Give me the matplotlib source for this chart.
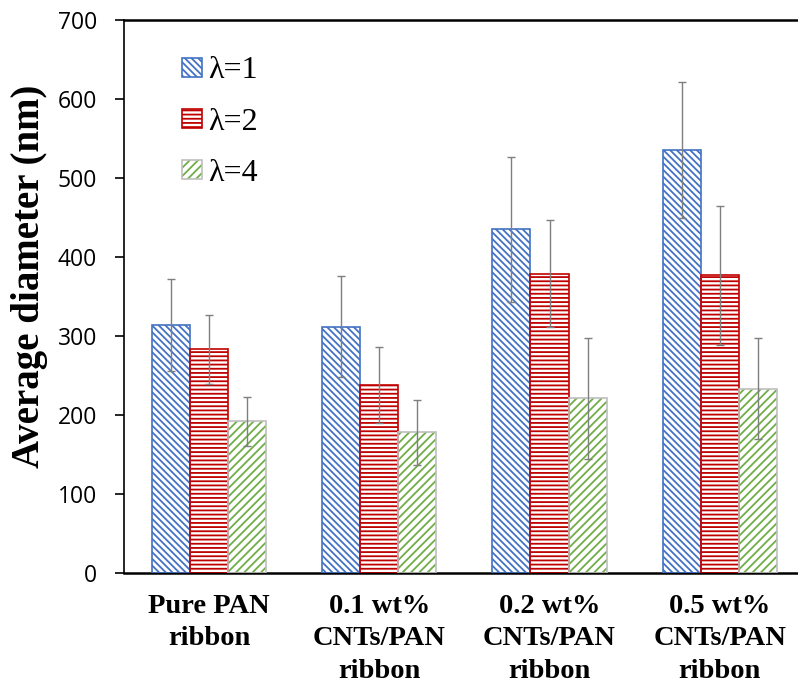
import numpy as np
import matplotlib.pyplot as plt
from matplotlib.patches import Patch

# Average diameter of ribbons for each draw ratio
categories = ["Pure PAN\nribbon", "0.1 wt%\nCNTs/PAN\nribbon",
              "0.2 wt%\nCNTs/PAN\nribbon", "0.5 wt%\nCNTs/PAN\nribbon"]
series_names = ["λ=1", "λ=2", "λ=4"]
lam1 = [314, 312, 435, 536]
lam2 = [283, 238, 379, 377]
lam4 = [192, 178, 221, 233]
err1 = [58, 64, 92, 86]
err2 = [44, 48, 68, 88]
err4 = [31, 41, 77, 64]

values = [lam1, lam2, lam4]
errors = [err1, err2, err4]
hatch_colors = ["#4472C4", "#C00000", "#70AD47"]
edge_colors = ["#4472C4", "#C00000", "#BFBFBF"]
hatches = ["\\" * 5, "----", "/" * 4]

plt.rcParams['hatch.linewidth'] = 1.3

fig = plt.figure(figsize=(7.98, 6.87), dpi=100)
ax = fig.add_axes([124 / 798, 114 / 687, 674 / 798, 553 / 687])

x = np.arange(len(categories))
w = 0.224
handles = []
for i, (vals, errs) in enumerate(zip(values, errors)):
    pos = x + (i - 1) * w
    ax.bar(pos, vals, w, color="white", edgecolor=hatch_colors[i],
           hatch=hatches[i], linewidth=0, zorder=2)
    ax.bar(pos, vals, w, fill=False, edgecolor=edge_colors[i],
           linewidth=1.2, zorder=3)
    ax.errorbar(pos, vals, yerr=errs, fmt="none", ecolor="#7F7F7F",
                elinewidth=1.0, capsize=3, capthick=1.0, zorder=4)
    h1 = Patch(facecolor="white", edgecolor=hatch_colors[i], hatch=hatches[i], lw=0)
    h2 = Patch(fill=False, edgecolor=edge_colors[i], lw=1.2)
    handles.append((h1, h2))

ax.set_xlim(-0.5, 3.46)
ax.set_ylim(0, 700)
ax.set_yticks(range(0, 701, 100))
ax.set_xticks(x)
ax.set_xticklabels(categories, family="Liberation Serif", fontweight="bold",
                   fontsize=20.5, linespacing=1.4)
for t in ax.get_yticklabels():
    t.set_family("Open Sans")
    t.set_fontsize(16.5)
ax.tick_params(axis="x", length=0, pad=15)
ax.tick_params(axis="y", length=6.5, width=1.2, pad=13, direction="out")

ax.set_ylabel("Average diameter (nm)", family="Liberation Serif",
              fontweight="bold", fontsize=28)
ax.yaxis.set_label_coords(-0.113, 0.537)

ax.spines["right"].set_visible(False)
ax.spines["left"].set_linewidth(1.2)
ax.spines["bottom"].set_linewidth(1.8)
ax.spines["top"].set_linewidth(1.8)

ax.legend(handles, series_names, loc="upper left",
          bbox_to_anchor=(0.063, 0.963), frameon=False,
          prop={"family": "Liberation Serif", "size": 23},
          handlelength=0.6, handleheight=0.53, handletextpad=0.2,
          labelspacing=0.7, borderpad=0)

fig.savefig("out.png", dpi=100)
